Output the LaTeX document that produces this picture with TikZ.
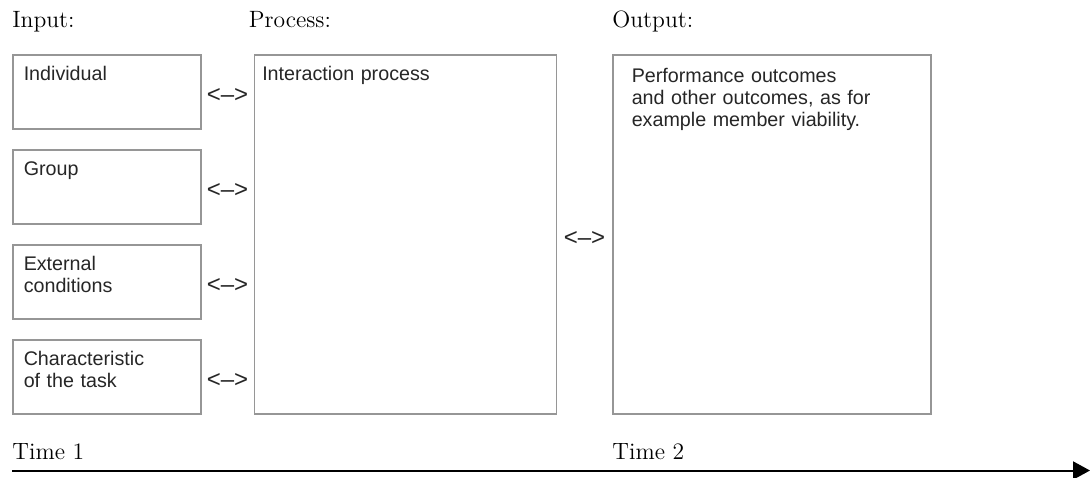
\documentclass[tikz,border=0pt]{standalone}
\usepackage{fontspec}
\usepackage{tikz}
\usetikzlibrary{positioning,arrows.meta}
\usepackage{xcolor}

\newfontfamily\boxfont{Liberation Sans}
\newcommand{\boxtext}{\boxfont\fontsize{9.85}{11}\selectfont}
\newcommand{\linktext}{\boxfont\fontsize{12}{12}\selectfont}
\newcommand{\headtext}{\fontsize{11.8}{13}\selectfont}
\definecolor{boxgray}{RGB}{150,150,150}

\begin{document}
\begin{tikzpicture}[x=0.5pt,y=-0.5pt,
    box/.style={draw=boxgray, line width=.75pt, font=\boxtext, text=black!85,
                align=left, inner ysep=6pt, text height=7pt, anchor=north west},
    inbox/.style={box, inner xsep=5.5pt, text width=83pt, text depth=18pt},
    bigbox/.style={box, text depth=160.5pt},
    link/.style={font=\linktext, text=black!85, inner sep=0pt, yshift=-2pt},
    heading/.style={anchor=base west, inner sep=0pt, font=\headtext}
  ]
  \useasboundingbox (0,0) rectangle (1090,477);
  % input column
  \node[inbox] (ind) at (12,54) {Individual};
  \node[inbox, below=9.75pt of ind] (grp) {Group};
  \node[inbox, below=9.75pt of grp] (ext) {External\\conditions};
  \node[inbox, below=9.75pt of ext] (chr) {Characteristic\\of the task};
  % process and output
  \node[bigbox, right=26pt of ind.north east, anchor=north west,
        inner xsep=4pt, text width=143pt] (proc) {Interaction process};
  \node[bigbox, right=27.5pt of proc.north east, anchor=north west,
        inner xsep=9.5pt, text width=140pt, text height=8pt, text depth=159.5pt] (out)
       {Performance outcomes\\and other outcomes, as for\\example member viability.};
  % links
  \foreach \n in {ind,grp,ext,chr}
    \path (\n.east) -- (\n.east -| proc.west) node[link, midway] (\n-link) {<–>};
  \path (proc.east) -- (out.west) node[link, midway] (proc-link) {<–>};
  % headings
  \node[heading] (in-head) at ([yshift=13.5pt]ind.north west) {Input:};
  \node[heading] (proc-head) at ([shift={(-2.5pt,13.5pt)}]proc.north west) {Process:};
  \node[heading] (out-head) at ([yshift=13.5pt]out.north west) {Output:};
  % time line
  \node[heading] (time1) at ([yshift=-22.5pt]chr.south west) {Time 1};
  \node[heading] (time2) at ([yshift=-22.5pt]out.south west) {Time 2};
  \coordinate (t-start) at ([yshift=-28pt]chr.south west);
  \coordinate (t-end) at (1090,469);
  \draw[line width=1pt, -{Triangle[length=8.5pt,width=9pt]}] (t-start) -- (t-start -| t-end);
\end{tikzpicture}
\end{document}
